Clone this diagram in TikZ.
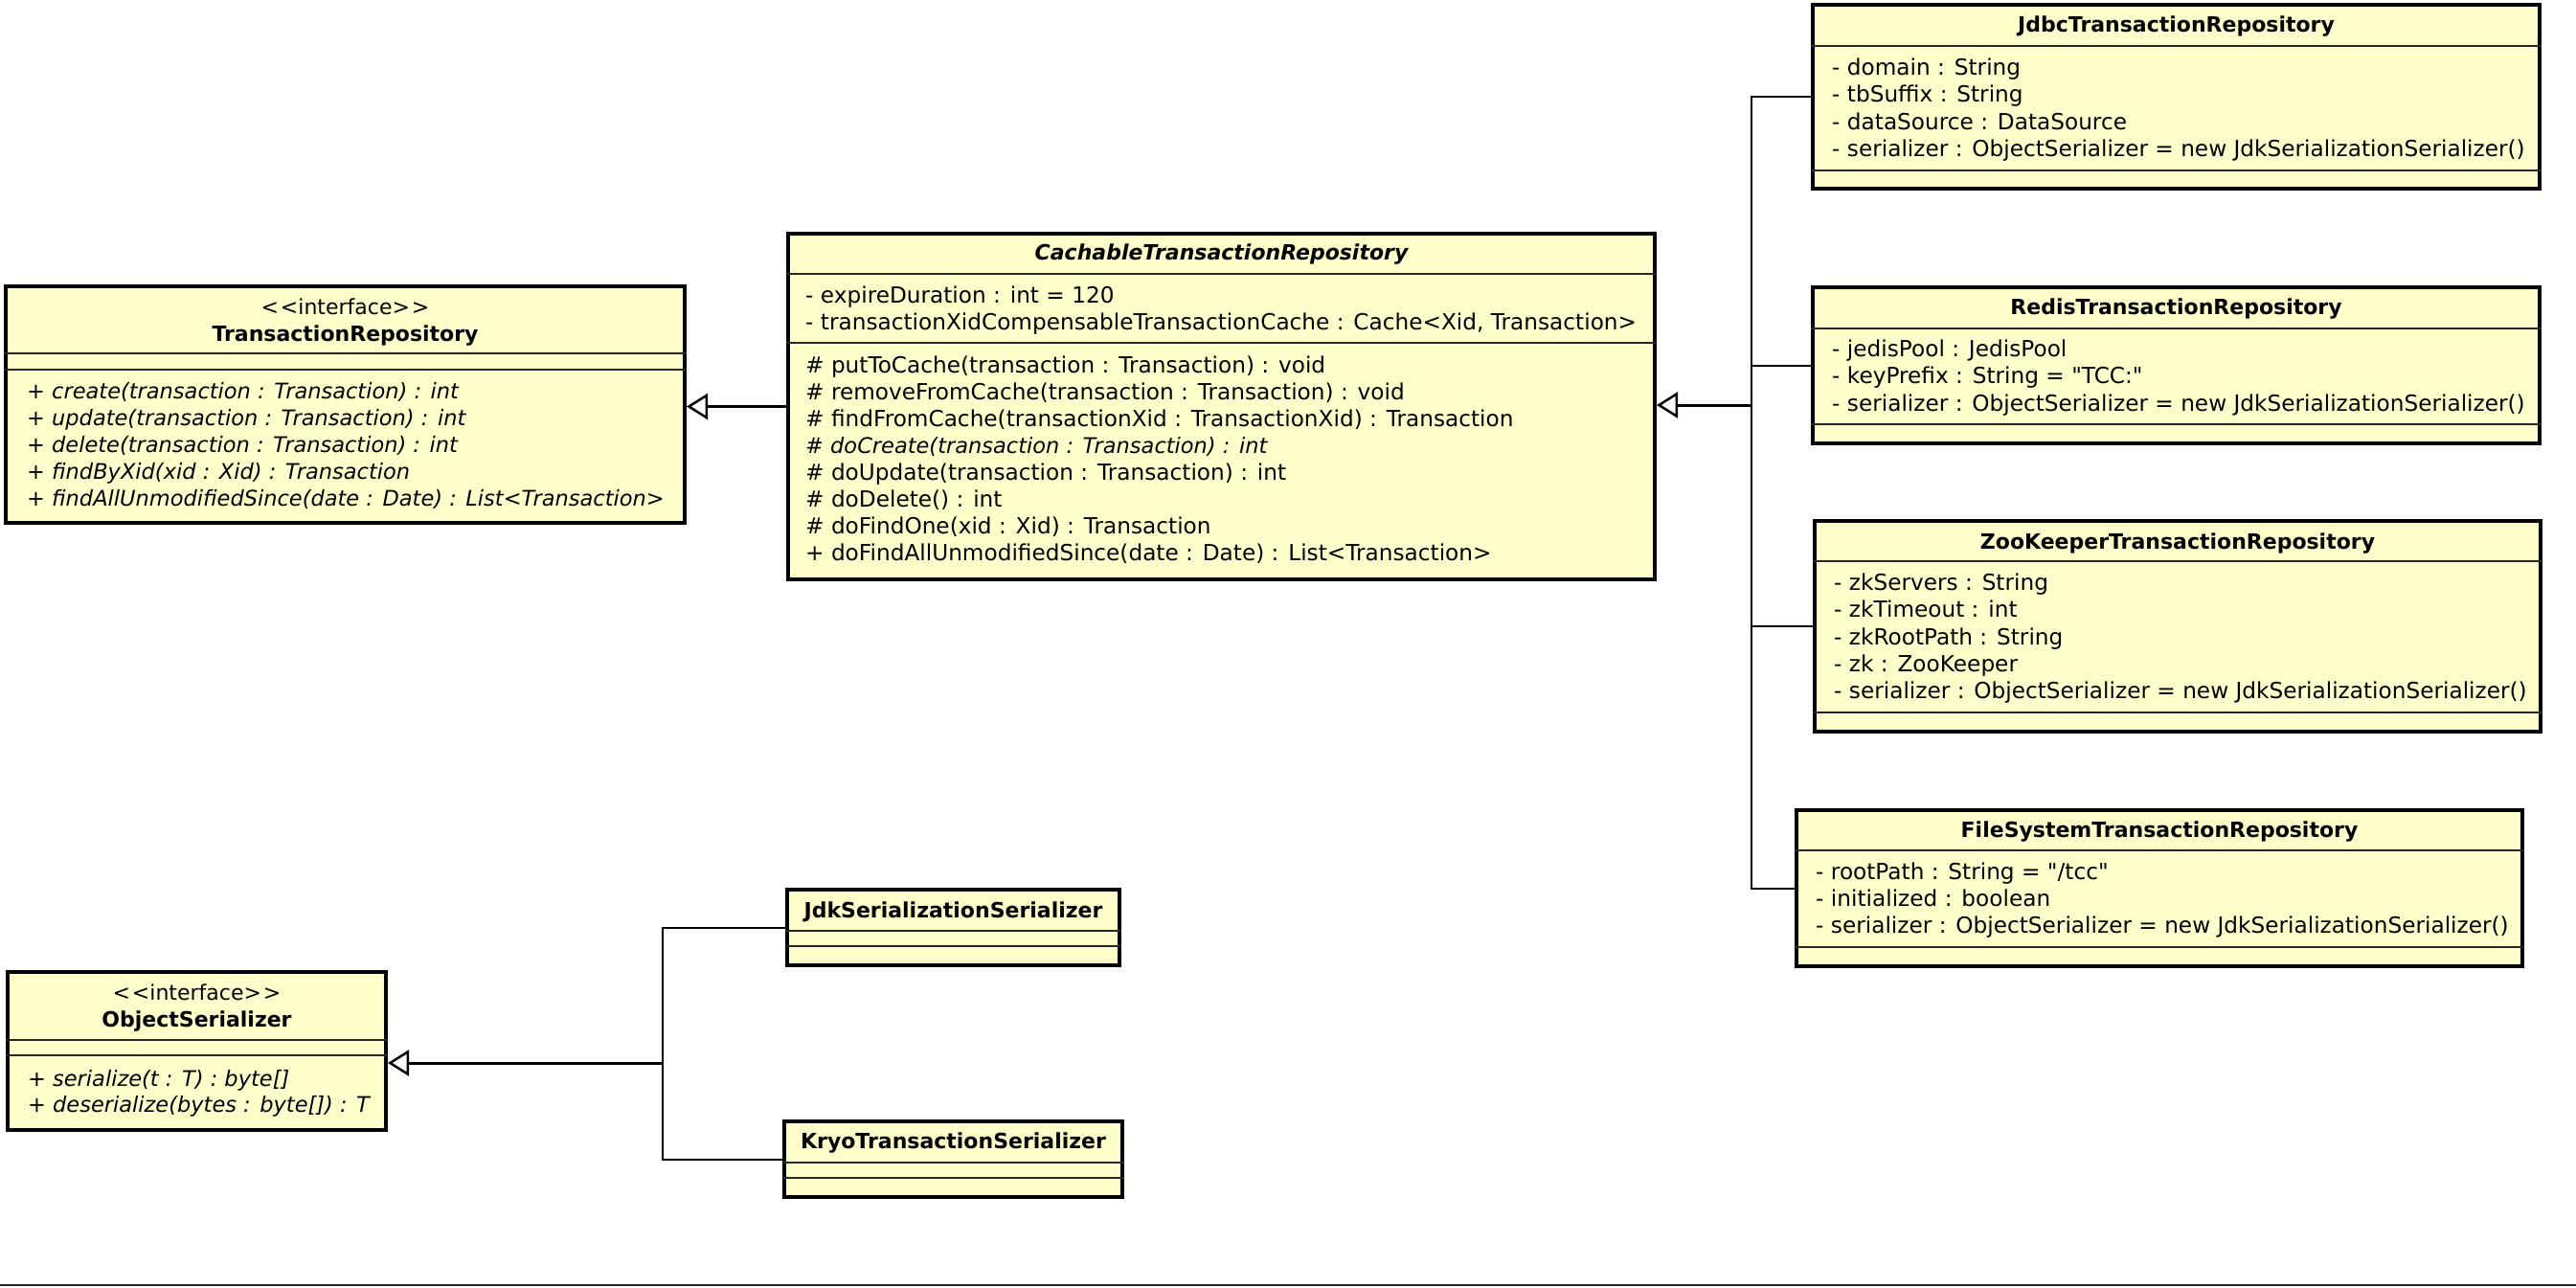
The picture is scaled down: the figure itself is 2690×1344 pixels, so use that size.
\documentclass[tikz,border=0pt]{standalone}
\usepackage{fontspec}
\newfontfamily\umlfont{DejaVu Sans}
\usetikzlibrary{arrows.meta}
\definecolor{umlfill}{RGB}{255,255,204}
\begin{document}
\begin{tikzpicture}[x=1pt,y=-1pt,
  classbox/.style={draw=black, line width=4pt, fill=umlfill, inner sep=0pt, anchor=north west},
  sepline/.style={draw=black!85, line width=2pt},
  member/.style={font=\umlfont\fontsize{23.2}{28}\selectfont, inner sep=0pt, anchor=west, text height=17pt, text depth=4pt},
  imember/.style={member, font=\umlfont\itshape\fontsize{22.5}{28}\selectfont},
  ctitle/.style={font=\umlfont\bfseries\fontsize{22}{28}\selectfont, inner sep=0pt, anchor=center, text height=17pt, text depth=4pt},
  stereo/.style={font=\umlfont\fontsize{22}{28}\selectfont, inner sep=0pt, anchor=center, text height=17pt, text depth=4pt},
  conn/.style={draw=black, line width=2pt},
  gen/.style={draw=black, line width=3pt, -{Triangle[open, length=22pt, width=27pt, line width=2.5pt]}}
]
\useasboundingbox (0,0) rectangle (2690,1344);

% ---------------- TransactionRepository
\node[classbox, minimum width=709pt, minimum height=247pt] (tr) at (4,297) {};
\node[stereo] (trs) at (360.5,322) {<\kern2pt<interface>\kern2pt>};
\node[ctitle] (trt) at (360.5,350) {TransactionRepository};
\draw[sepline] (tr.west |- 0,369) -- (tr.east |- 0,369);
\draw[sepline] (tr.west |- 0,386) -- (tr.east |- 0,386);
\foreach \t [count=\i from 0] in {
  {+ create(transaction : Transaction) : int},
  {+ update(transaction : Transaction) : int},
  {+ delete(transaction : Transaction) : int},
  {+ findByXid(xid : Xid) : Transaction},
  {+ findAllUnmodifiedSince(date : Date) : List<Transaction>}}
  \node[imember] (trm\i) at (28,{410+28*\i}) {\t};

% ---------------- CachableTransactionRepository
\node[classbox, minimum width=905pt, minimum height=361pt] (cach) at (821,242) {};
\node[ctitle, font=\umlfont\bfseries\itshape\fontsize{22}{28}\selectfont] (cacht) at (1275.5,265) {CachableTransactionRepository};
\draw[sepline] (cach.west |- 0,286) -- (cach.east |- 0,286);
\foreach \t [count=\i from 0] in {
  {- expireDuration : int = 120},
  {- transactionXidCompensableTransactionCache : Cache<Xid, Transaction>}}
  \node[member] (cacha\i) at (841,{310+28*\i}) {\t};
\draw[sepline] (cach.west |- 0,358) -- (cach.east |- 0,358);
\foreach \t [count=\i from 0] in {
  {\# putToCache(transaction : Transaction) : void},
  {\# removeFromCache(transaction : Transaction) : void},
  {\# findFromCache(transactionXid : TransactionXid) : Transaction},
  {\itshape\fontsize{22.5}{28}\selectfont\# doCreate(transaction : Transaction) : int},
  {\# doUpdate(transaction : Transaction) : int},
  {\# doDelete() : int},
  {\# doFindOne(xid : Xid) : Transaction},
  {+ doFindAllUnmodifiedSince(date : Date) : List<Transaction>}}
  \node[member] (cachm\i) at (841,{383+28*\i}) {\t};

% ---------------- JdbcTransactionRepository
\node[classbox, minimum width=759pt, minimum height=192pt] (jdbc) at (1891,3) {};
\node[ctitle] (jdbct) at (2272.5,27) {JdbcTransactionRepository};
\draw[sepline] (jdbc.west |- 0,48) -- (jdbc.east |- 0,48);
\foreach \t [count=\i from 0] in {
  {- domain : String},
  {- tbSuffix : String},
  {- dataSource : DataSource},
  {- serializer : ObjectSerializer = new JdkSerializationSerializer()}}
  \node[member] (jdbca\i) at (1913,{72+28.3*\i}) {\t};
\draw[sepline] (jdbc.west |- 0,178) -- (jdbc.east |- 0,178);

% ---------------- RedisTransactionRepository
\node[classbox, minimum width=759pt, minimum height=163pt] (redis) at (1891,298) {};
\node[ctitle] (redist) at (2272.5,322) {RedisTransactionRepository};
\draw[sepline] (redis.west |- 0,343) -- (redis.east |- 0,343);
\foreach \t [count=\i from 0] in {
  {- jedisPool : JedisPool},
  {- keyPrefix : String = "TCC:"},
  {- serializer : ObjectSerializer = new JdkSerializationSerializer()}}
  \node[member] (redisa\i) at (1913,{366+28.3*\i}) {\t};
\draw[sepline] (redis.west |- 0,443) -- (redis.east |- 0,443);

% ---------------- ZooKeeperTransactionRepository
\node[classbox, minimum width=758pt, minimum height=220pt] (zoo) at (1893,542) {};
\node[ctitle] (zoot) at (2274,567) {ZooKeeperTransactionRepository};
\draw[sepline] (zoo.west |- 0,586) -- (zoo.east |- 0,586);
\foreach \t [count=\i from 0] in {
  {- zkServers : String},
  {- zkTimeout : int},
  {- zkRootPath : String},
  {- zk : ZooKeeper},
  {- serializer : ObjectSerializer = new JdkSerializationSerializer()}}
  \node[member] (zooa\i) at (1915,{610+28.3*\i}) {\t};
\draw[sepline] (zoo.west |- 0,744) -- (zoo.east |- 0,744);

% ---------------- FileSystemTransactionRepository
\node[classbox, minimum width=758pt, minimum height=163pt] (fs) at (1874,844) {};
\node[ctitle] (fst) at (2255,868) {FileSystemTransactionRepository};
\draw[sepline] (fs.west |- 0,888) -- (fs.east |- 0,888);
\foreach \t [count=\i from 0] in {
  {- rootPath : String = "/tcc"},
  {- initialized : boolean},
  {- serializer : ObjectSerializer = new JdkSerializationSerializer()}}
  \node[member] (fsa\i) at (1896,{912+28*\i}) {\t};
\draw[sepline] (fs.west |- 0,989) -- (fs.east |- 0,989);

% ---------------- ObjectSerializer
\node[classbox, minimum width=395pt, minimum height=165pt] (os) at (6,1013) {};
\node[stereo] (oss) at (205.5,1038) {<\kern2pt<interface>\kern2pt>};
\node[ctitle] (ost) at (205.5,1066) {ObjectSerializer};
\draw[sepline] (os.west |- 0,1086) -- (os.east |- 0,1086);
\draw[sepline] (os.west |- 0,1102) -- (os.east |- 0,1102);
\foreach \t [count=\i from 0] in {
  {+ serialize(t : T) : byte[]},
  {+ deserialize(bytes : byte[]) : T}}
  \node[imember] (osm\i) at (29,{1128+27*\i}) {\t};

% ---------------- JdkSerializationSerializer
\node[classbox, minimum width=347pt, minimum height=79pt] (jdk) at (820,927) {};
\node[ctitle] (jdkt) at (995.5,952) {JdkSerializationSerializer};
\draw[sepline] (jdk.west |- 0,972) -- (jdk.east |- 0,972);
\draw[sepline] (jdk.west |- 0,988) -- (jdk.east |- 0,988);

% ---------------- KryoTransactionSerializer
\node[classbox, minimum width=353pt, minimum height=79pt] (kryo) at (817,1169) {};
\node[ctitle] (kryot) at (995.5,1193) {KryoTransactionSerializer};
\draw[sepline] (kryo.west |- 0,1214) -- (kryo.east |- 0,1214);
\draw[sepline] (kryo.west |- 0,1230) -- (kryo.east |- 0,1230);

% ---------------- connectors
\draw[gen] (cach.west) -- (cach.west -| tr.east);

\coordinate (rj) at (1829,423);
\draw[conn] (jdbc.west) -| (rj);
\draw[conn] (redis.west) -| (rj);
\draw[conn] (zoo.west) -| (rj);
\draw[conn] (fs.west) -| (rj);
\draw[gen] (rj) -- (rj -| cach.east);

\coordinate (sj) at (692,1110);
\draw[conn] (jdk.west) -| (sj);
\draw[conn] (kryo.west) -| (sj);
\draw[gen] (sj) -- (sj -| os.east);

% bottom rule
\draw[line width=2pt, black!85] (0,1342) -- (2690,1342);
\end{tikzpicture}
\end{document}
